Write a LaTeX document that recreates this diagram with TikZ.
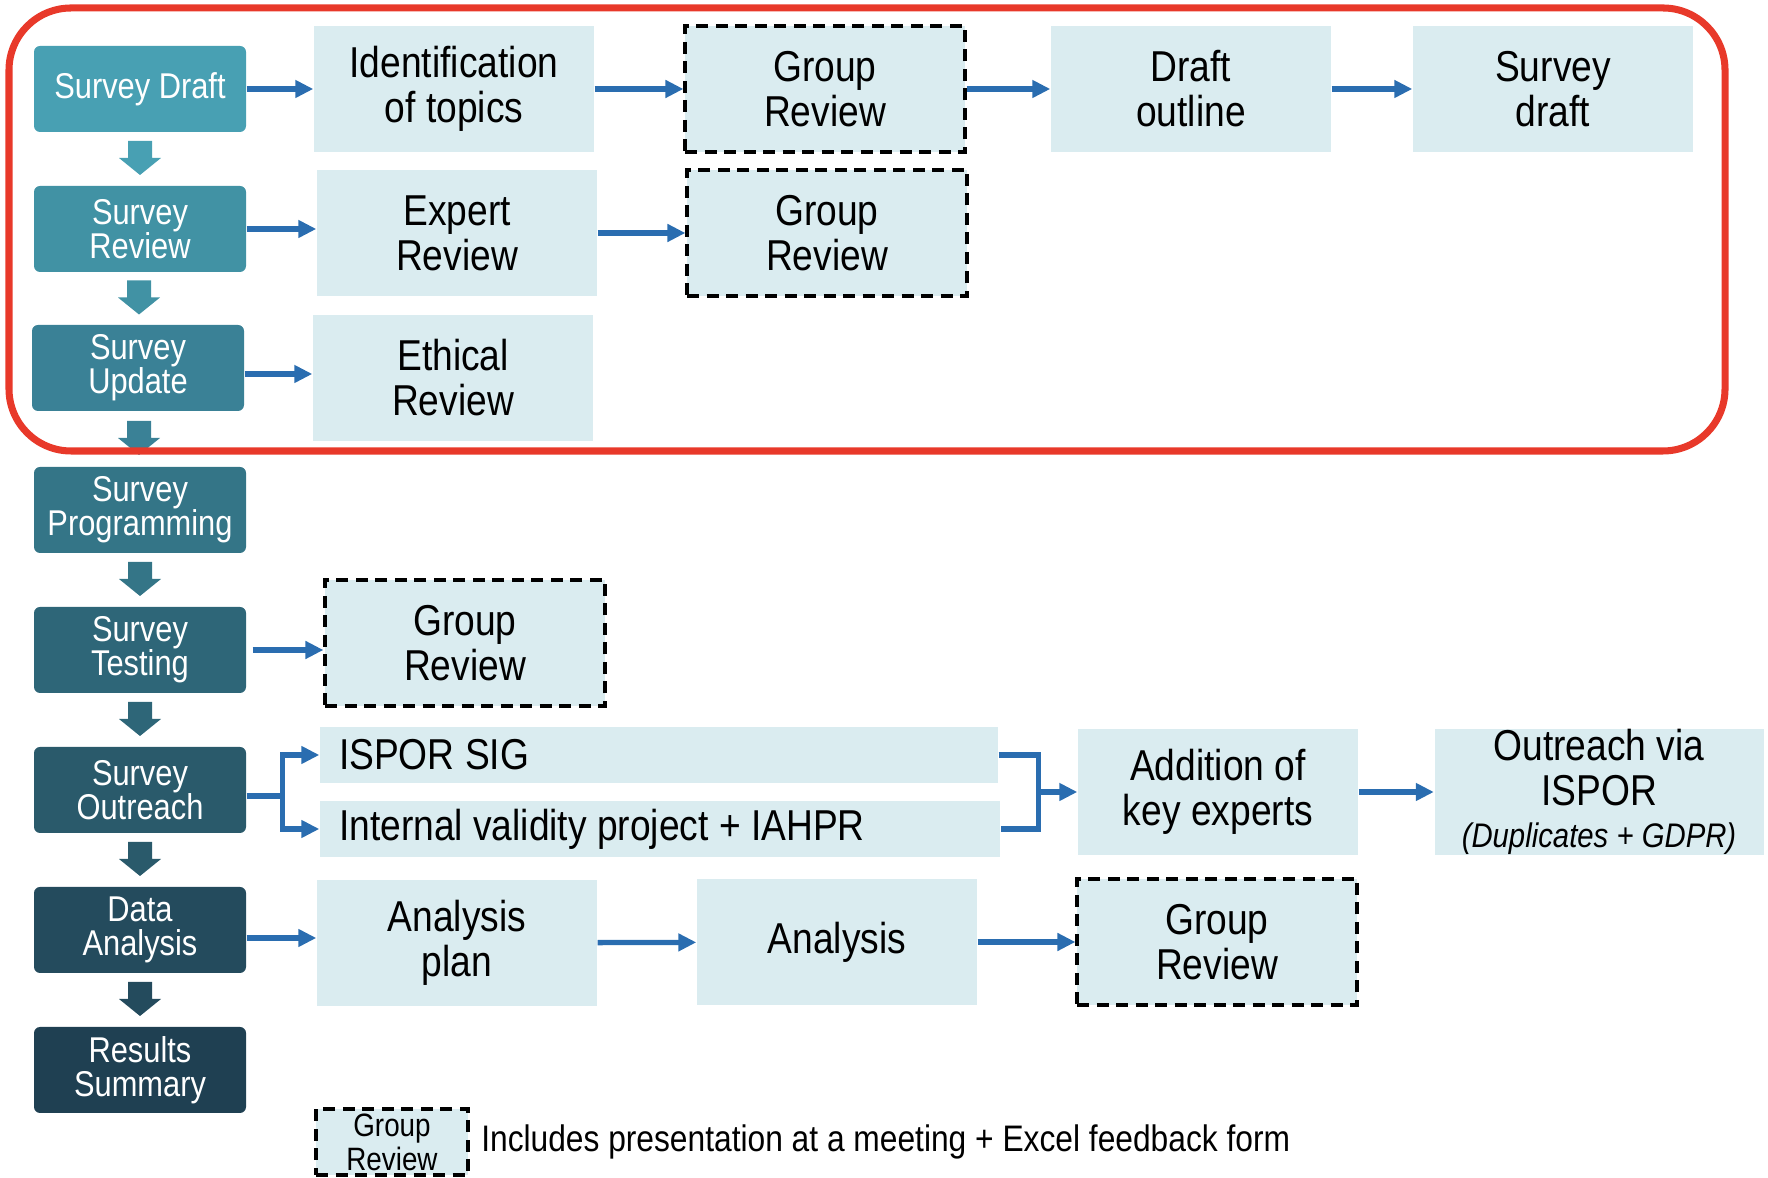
\documentclass[tikz,border=0pt]{standalone}
\usepackage{fontspec}
\setmainfont{Liberation Sans}[FakeStretch=0.86]
\usetikzlibrary{arrows.meta, positioning, calc}
\definecolor{FlowBlue}{HTML}{2A6DB0}
\definecolor{TaskFill}{HTML}{DAECF0}
\definecolor{FrameRed}{HTML}{E8392A}
\definecolor{StageA}{HTML}{48A0B3}
\definecolor{StageB}{HTML}{4192A4}
\definecolor{StageC}{HTML}{3A8196}
\definecolor{StageD}{HTML}{347587}
\definecolor{StageE}{HTML}{2E6678}
\definecolor{StageF}{HTML}{2A5A6B}
\definecolor{StageG}{HTML}{244B5D}
\definecolor{StageH}{HTML}{1F4052}

\begin{document}
\begin{tikzpicture}[x=0.1mm, y=-0.1mm, >={Triangle[length=1.8mm, width=1.7mm]},
    stage/.style={fill=#1, rounded corners=0.6mm, text=white,
                  font=\fontsize{10.2}{9.7}\selectfont, minimum width=21.2mm,
                  minimum height=8.6mm, align=center, inner sep=0pt},
    task/.style={fill=TaskFill, font=\fontsize{12.3}{12.8}\selectfont,
                 minimum width=28mm, minimum height=12.6mm,
                 align=center, inner sep=0pt},
    grp/.style={task, draw=black, line width=0.9pt,
                dash pattern=on 1.2mm off 0.75mm},
    flow/.style={->, FlowBlue, line width=1.5pt}]
  \useasboundingbox (0,0) rectangle (1768,1178);
  % Stages
  \node[stage=StageA] (draft)    at (140, 89)   {Survey Draft};
  \node[stage=StageB] (review)   at (140, 229)  {Survey\\Review};
  \node[stage=StageC] (update)   at (138, 368)  {Survey\\Update};
  \node[stage=StageD] (prog)     at (140, 510)  {Survey\\Programming};
  \node[stage=StageE] (test)     at (140, 650)  {Survey\\Testing};
  \node[stage=StageF] (outreach) at (140, 790)  {Survey\\Outreach};
  \node[stage=StageG] (analysis) at (140, 930)  {Data\\Analysis};
  \node[stage=StageH] (results)  at (140, 1070) {Results\\Summary};
  % Block arrows between stages
  \foreach \a/\b/\c in {draft/review/StageA, review/update/StageB,
      update/prog/StageC, prog/test/StageD, test/outreach/StageE,
      outreach/analysis/StageF, analysis/results/StageG} {
    \path ($(\a.south)!0.5!(\b.north)$) coordinate (m);
    \fill[\c] ($(m)+(-12,-18)$) -- ($(m)+(12,-18)$) -- ($(m)+(12,-1)$)
      -- ($(m)+(21,-1)$) -- ($(m)+(0,16)$) -- ($(m)+(-21,-1)$)
      -- ($(m)+(-12,-1)$) -- cycle;
  }
  % Tasks
  \node[task] (topics)  at (454, 89)  {Identification\\of topics};
  \node[grp]  (grpA)    at (825, 89)  {Group\\Review};
  \node[task] (outline) at (1191, 89) {Draft\\outline};
  \node[task] (sdraft)  at (1553, 89) {Survey\\draft};
  \node[task] (expert)  at (457, 233) {Expert\\Review};
  \node[grp]  (grpB)    at (827, 233) {Group\\Review};
  \node[task] (ethics)  at (453, 378) {Ethical\\Review};
  \node[grp]  (grpC)    at (465, 643) {Group\\Review};
  \node[task, minimum width=67.8mm, minimum height=5.6mm, text width=64mm,
        align=flush left] (sig) at (659, 755) {ISPOR SIG};
  \node[task, minimum width=68mm, minimum height=5.6mm, text width=64.2mm,
        align=flush left] (internal) at (660, 829) {Internal validity project + IAHPR};
  \node[task] (addexp)  at (1218, 792) {Addition of\\key experts};
  \node[task, minimum width=32.9mm] (outvia) at (1599, 792)
    {Outreach via\\ISPOR\\[-1pt]{\fontsize{9.7}{10}\selectfont\itshape (Duplicates + GDPR)}};
  \node[task] (aplan)   at (457, 943)  {Analysis\\plan};
  \node[task] (anal)    at (837, 942)  {Analysis};
  \node[grp]  (grpD)    at (1217, 942) {Group\\Review};
  % Flow arrows
  \draw[flow] (draft.east) -- (draft.east -| topics.west);
  \draw[flow] (topics) -- (grpA);
  \draw[flow] (grpA) -- (outline);
  \draw[flow] (outline) -- (sdraft);
  \draw[flow] (review.east) -- (review.east -| expert.west);
  \draw[flow] (expert.east) -- (expert.east -| grpB.west);
  \coordinate (updout) at ($(update.east)+(0,6)$);
  \draw[flow] (updout) -- (updout -| ethics.west);
  \draw[flow, shorten <=0.6mm] (test.east) -- (test.east -| grpC.west);
  \coordinate (fork) at ($(outreach.east)+(36,6)$);
  \draw[FlowBlue, line width=1.5pt] (outreach.east |- fork) -- (fork);
  \draw[flow] (fork) |- (sig.west);
  \draw[flow] (fork) |- (internal.west);
  \coordinate (join) at ($(sig.east)!0.5!(internal.east)+(39,0)$);
  \draw[FlowBlue, line width=1.5pt] (sig.east) -| (join) |- (internal.east);
  \draw[flow] (join) -- (join -| addexp.west);
  \draw[flow] (addexp) -- (outvia);
  \coordinate (anaout) at ($(analysis.east)+(0,8)$);
  \draw[flow] (anaout) -- (anaout -| aplan.west);
  \draw[flow] (aplan) -- (anal);
  \draw[flow] (anal) -- (grpD);
  % Highlighted phase
  \draw[FrameRed, line width=2pt, rounded corners=6.2mm] (9,8) rectangle (1725,451);
  % Legend
  \node[grp, minimum width=15.2mm, minimum height=6.6mm,
        font=\fontsize{9.2}{9.7}\selectfont] (key) at (392, 1142) {Group\\Review};
  \node[right=1.1mm of key, inner sep=0pt,
        font=\fontsize{10.5}{12}\selectfont] (keytext)
    {Includes presentation at a meeting + Excel feedback form};
\end{tikzpicture}
\end{document}
